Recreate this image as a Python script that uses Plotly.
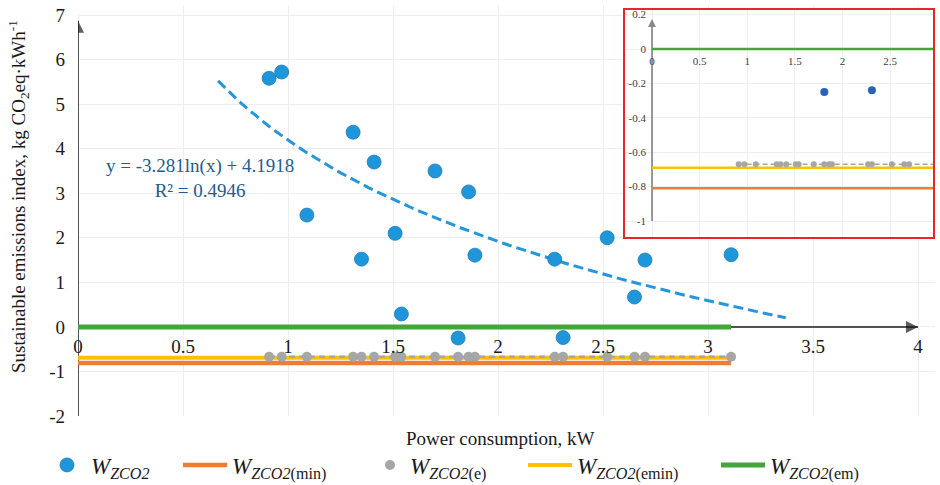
import numpy as np
import plotly.graph_objects as go

# ---------------- data ----------------
power_kw = [0.91, 0.97, 1.09, 1.31, 1.35, 1.41, 1.51, 1.54, 1.70, 1.81,
            1.86, 1.89, 2.27, 2.31, 2.52, 2.65, 2.70, 3.11]
w_zco2 = [5.58, 5.72, 2.51, 4.37, 1.52, 3.70, 2.10, 0.29, 3.50, -0.25,
          3.03, 1.61, 1.52, -0.24, 2.00, 0.67, 1.50, 1.62]
w_zco2_e = [-0.67, -0.67, -0.67, -0.67, -0.67, -0.67, -0.67, -0.67, -0.67, -0.67,
            -0.67, -0.67, -0.67, -0.67, -0.67, -0.67, -0.67, -0.67]
line_x = [0, 3.11]
w_zco2_min = [-0.81, -0.81]
w_zco2_emin = [-0.69, -0.69]
w_zco2_em = [0, 0]

trend_a = -3.281
trend_b = 4.1918
trend_r2 = 0.4946
trend_x_start = 0.667
trend_x_end = 3.37

x_tickvals = [0, 0.5, 1, 1.5, 2, 2.5, 3, 3.5, 4]
x_ticktext = ["0", "0.5", "1", "1.5", "2", "2.5", "3", "3.5", "4"]
y_tickvals = [-2, -1, 0, 1, 2, 3, 4, 5, 6, 7]
y_ticktext = ["-2", "-1", "0", "1", "2", "3", "4", "5", "6", "7"]
inset_x_tickvals = [0, 0.5, 1, 1.5, 2, 2.5]
inset_x_ticktext = ["0", "0.5", "1", "1.5", "2", "2.5"]
inset_y_tickvals = [-1, -0.8, -0.6, -0.4, -0.2, 0, 0.2]
inset_y_ticktext = ["-1", "-0.8", "-0.6", "-0.4", "-0.2", "0", "0.2"]

# ---------------- styling ----------------
FONT = "Liberation Serif"
BLUE = "#1F96DA"
INSET_BLUE = "#2A62B5"
GRAY = "#A6A6A6"
ORANGE = "#ED7D31"
YELLOW = "#FFC000"
GREEN = "#43A53A"
GRID = "#EEEEEE"
AXIS = "#1a1a1a"

W, H = 940, 485
ML, MR, MT, MB = 78, 5, 5, 69
PW, PH = W - ML - MR, H - MT - MB


def px_x(p):
    return (p - ML) / PW


def px_y(p):
    return (H - MB - p) / PH


x_range = [0, (W - MR - ML) / 210.0]
y_range = [-2, 7 + (15 - MT) / 44.56]

trend_x = np.linspace(trend_x_start, trend_x_end, 80)
trend_y = trend_a * np.log(trend_x) + trend_b

lbl = "<i>W</i><sub><i>ZCO</i><i>2</i>%s</sub>"

fig = go.Figure()

# axis lines with arrow heads (drawn first, below the data)
fig.add_trace(go.Scatter(x=[0, 4.0], y=[0, 0], mode="lines+markers",
                         line=dict(color=AXIS, width=1.5),
                         marker=dict(symbol=["circle", "arrow-right"], size=[0, 12],
                                     color=AXIS, line=dict(width=0)),
                         showlegend=False, hoverinfo="skip"))
fig.add_trace(go.Scatter(x=[0, 0], y=[-2, 6.87], mode="lines+markers",
                         line=dict(color=AXIS, width=1.5),
                         marker=dict(symbol=["circle", "arrow-up"], size=[0, 12],
                                     color=AXIS, line=dict(width=0)),
                         showlegend=False, hoverinfo="skip"))

# main traces
fig.add_trace(go.Scatter(x=line_x, y=w_zco2_min, mode="lines",
                         line=dict(color=ORANGE, width=4.5),
                         name=lbl % "(min)", legend="legend2"))
fig.add_trace(go.Scatter(x=line_x, y=w_zco2_emin, mode="lines",
                         line=dict(color=YELLOW, width=4),
                         name=lbl % "(emin)", legend="legend4"))
fig.add_trace(go.Scatter(x=power_kw, y=w_zco2_e, mode="lines",
                         line=dict(color=GRAY, width=2.5, dash="6px,4px"),
                         showlegend=False, hoverinfo="skip"))
fig.add_trace(go.Scatter(x=power_kw, y=w_zco2_e, mode="markers",
                         marker=dict(color=GRAY, size=10),
                         name=lbl % "(e)", legend="legend3"))
fig.add_trace(go.Scatter(x=line_x, y=w_zco2_em, mode="lines",
                         line=dict(color=GREEN, width=5),
                         name=lbl % "(em)", legend="legend5"))
fig.add_trace(go.Scatter(x=trend_x, y=trend_y, mode="lines",
                         line=dict(color="#2496DA", width=3, dash="10px,5px"),
                         showlegend=False))
fig.add_trace(go.Scatter(x=power_kw, y=w_zco2, mode="markers",
                         marker=dict(color=BLUE, size=14,
                                     line=dict(color="#1A7DB8", width=0.8)),
                         name=lbl % "", legend="legend"))

# inset traces
fig.add_trace(go.Scatter(x=[0, 0], y=[-1, 0.175], mode="lines+markers", xaxis="x2", yaxis="y2",
                         line=dict(color="#595959", width=1.2),
                         marker=dict(symbol=["circle", "arrow-up"], size=[0, 8],
                                     color="#595959", line=dict(width=0)),
                         showlegend=False, hoverinfo="skip"))
fig.add_trace(go.Scatter(x=line_x, y=w_zco2_min, mode="lines", xaxis="x2", yaxis="y2",
                         line=dict(color=ORANGE, width=2.5), showlegend=False))
fig.add_trace(go.Scatter(x=line_x, y=w_zco2_emin, mode="lines", xaxis="x2", yaxis="y2",
                         line=dict(color=YELLOW, width=2.5), showlegend=False))
fig.add_trace(go.Scatter(x=power_kw, y=w_zco2_e, mode="lines+markers", xaxis="x2", yaxis="y2",
                         line=dict(color=GRAY, width=1.5, dash="5px,3px"),
                         marker=dict(color=GRAY, size=6), showlegend=False))
fig.add_trace(go.Scatter(x=line_x, y=w_zco2_em, mode="lines", xaxis="x2", yaxis="y2",
                         line=dict(color=GREEN, width=2.5), showlegend=False))
fig.add_trace(go.Scatter(x=power_kw, y=w_zco2, mode="markers", xaxis="x2", yaxis="y2",
                         marker=dict(color=INSET_BLUE, size=8), showlegend=False))

# inset geometry (pixels of the red box)
bx0, bx1, by0, by1 = 624, 934, 9, 238
ix0_px = 652          # inset x=0
ipx_per_x = 95.2
iy0_px = 49           # inset y=0
ipx_per_y = 172.0
inset_xr = [(bx0 - ix0_px) / ipx_per_x, (bx1 - ix0_px) / ipx_per_x]
inset_yr = [-(by1 - iy0_px) / ipx_per_y, (iy0_px - by0) / ipx_per_y]

tickfont = dict(family=FONT, size=19, color=AXIS)
itickfont = dict(family=FONT, size=11, color="#404040")

fig.update_layout(
    width=W, height=H,
    margin=dict(l=ML, r=MR, t=MT, b=MB, autoexpand=False),
    paper_bgcolor="white", plot_bgcolor="white",
    font=dict(family=FONT, color=AXIS),
    xaxis=dict(domain=[0, 1], range=x_range, tickmode="array", automargin=False,
               tickvals=x_tickvals, ticktext=x_ticktext, tickfont=tickfont,
               showgrid=True, gridcolor=GRID, gridwidth=1, zeroline=False,
               showline=False, ticks="", anchor="free",
               position=(0 - y_range[0]) / (y_range[1] - y_range[0]),
               ticklabelstandoff=6),
    yaxis=dict(domain=[0, 1], range=y_range, tickmode="array", automargin=False,
               tickvals=y_tickvals, ticktext=y_ticktext, tickfont=tickfont,
               showgrid=True, gridcolor=GRID, gridwidth=1, zeroline=False,
               showline=False, ticks="", ticklabelstandoff=12),
    xaxis2=dict(domain=[px_x(bx0), px_x(bx1)], range=inset_xr, tickmode="array",
                automargin=False,
                tickvals=inset_x_tickvals, ticktext=inset_x_ticktext,
                tickfont=itickfont, showgrid=True, gridcolor=GRID, zeroline=False,
                showline=False, ticks="", anchor="free",
                position=px_y(iy0_px), ticklabelstandoff=4),
    yaxis2=dict(domain=[px_y(by1), px_y(by0)], range=inset_yr, tickmode="array",
                automargin=False,
                tickvals=inset_y_tickvals, ticktext=inset_y_ticktext,
                tickfont=itickfont, showgrid=True, gridcolor=GRID, zeroline=False,
                showline=False, ticks="", anchor="free",
                position=px_x(ix0_px), ticklabelstandoff=6),
)

# legends, one per entry, laid out along the bottom (container coordinates)
leg_y = 1 - 465 / H
leg_font = dict(family=FONT, size=23, color=AXIS)
for name, xpx, iw in [("legend", 43, 38), ("legend2", 178, 44), ("legend3", 370, 30),
                      ("legend4", 523, 44), ("legend5", 716, 44)]:
    fig.update_layout({name: dict(x=xpx / W, y=leg_y, xref="container", yref="container",
                                  xanchor="left", yanchor="middle",
                                  orientation="h", bgcolor="rgba(0,0,0,0)",
                                  font=leg_font, itemwidth=iw)})

# red inset frame
fig.add_shape(type="rect", xref="paper", yref="paper",
              x0=px_x(bx0), x1=px_x(bx1), y0=px_y(by1), y1=px_y(by0),
              line=dict(color="#E8262A", width=2), fillcolor="rgba(0,0,0,0)", layer="above")

# trendline equation
fig.add_annotation(x=(200 - ML) / 210.0, y=(327 - 178.5) / 44.56, xref="x", yref="y",
                   text="y = %.3fln(x) + %.4f<br>R² = %.4f" % (trend_a, trend_b, trend_r2),
                   showarrow=False, font=dict(family=FONT, size=19, color="#245C8E"),
                   align="center", xanchor="center", yanchor="middle")

# axis titles
fig.add_annotation(x=px_x(500), y=px_y(438), xref="paper", yref="paper",
                   xanchor="center", yanchor="middle",
                   text="Power consumption, kW", showarrow=False,
                   font=dict(family=FONT, size=19, color=AXIS))
fig.add_annotation(x=px_x(18), y=px_y(197), xref="paper", yref="paper", textangle=-90,
                   xanchor="center", yanchor="middle",
                   text="Sustainable emissions index, kg CO<sub>2</sub>eq·kWh<sup>-1</sup>",
                   showarrow=False, font=dict(family=FONT, size=19, color=AXIS))

fig.write_html("out.html", config={"displayModeBar": False},
               post_script="document.body.style.margin='0px';document.body.style.padding='0px';")
